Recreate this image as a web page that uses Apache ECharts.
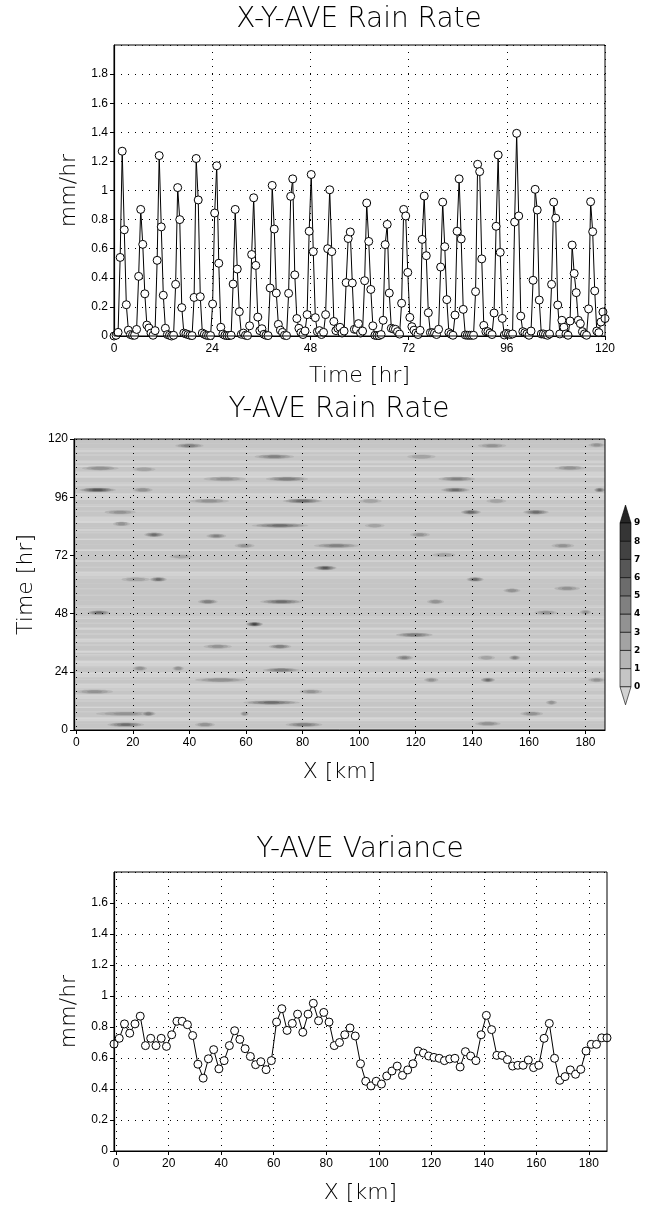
<!DOCTYPE html>
<html><head><meta charset="utf-8">
<script src="https://cdn.jsdelivr.net/npm/echarts@6/dist/echarts.min.js"></script>
<style>html,body{margin:0;padding:0;background:#fff}#c{width:649px;height:1205px}</style>
</head><body><div id="c"></div>
<script>
// ---------- DATA ----------
// X-Y-AVE rain rate (mm/hr), 240 samples spanning 0..120 hr
const rainRate = [
0,0.005,0.025,0.54,1.27,0.73,0.215,0.04,0.01,0.005,
0.005,0.045,0.41,0.87,0.63,0.29,0.075,0.055,0.02,0.005,
0.037,0.52,1.24,0.75,0.28,0.053,0.01,0.005,0,0.005,
0.355,1.02,0.80,0.195,0.02,0.015,0.01,0.005,0.003,0.265,
1.22,0.935,0.27,0.02,0.012,0.005,0.003,0.003,0.22,0.845,
1.17,0.50,0.06,0.013,0.005,0.003,0.003,0.005,0.357,0.87,
0.46,0.167,0.012,0.02,0.005,0.003,0.07,0.56,0.95,0.485,
0.13,0.037,0.05,0.012,0.005,0.003,0.33,1.035,0.735,0.295,
0.08,0.04,0.025,0.005,0.003,0.293,0.96,1.08,0.42,0.12,
0.053,0.023,0.01,0.035,0.147,0.72,1.11,0.58,0.126,0.03,
0.037,0.01,0.025,0.147,0.60,1.005,0.58,0.10,0.037,0.053,
0.06,0.02,0.034,0.367,0.67,0.715,0.364,0.046,0.046,0.085,
0.02,0.034,0.38,0.914,0.65,0.32,0.07,0.005,0.003,0.003,
0.01,0.108,0.628,0.767,0.295,0.053,0.048,0.046,0.03,0.013,
0.225,0.87,0.825,0.437,0.128,0.064,0.04,0.02,0.01,0.039,
0.664,0.962,0.552,0.16,0.023,0.023,0.02,0.01,0.046,0.474,
0.92,0.614,0.25,0.023,0.013,0.005,0.144,0.72,1.08,0.667,
0.183,0.007,0.005,0.005,0.005,0.005,0.305,1.18,1.13,0.53,
0.073,0.03,0.03,0.02,0.01,0.158,0.754,1.244,0.575,0.121,
0.007,0.018,0.015,0.01,0.014,0.783,1.393,0.825,0.137,0.03,
0.023,0.015,0.005,0.034,0.383,1.008,0.866,0.247,0.014,0.014,
0.01,0.005,0.014,0.355,0.92,0.81,0.213,0.014,0.108,0.06,
0.014,0.005,0.103,0.625,0.43,0.298,0.108,0.085,0.03,0.014,
0.005,0.186,0.923,0.717,0.31,0.034,0.023,0.096,0.165,0.12
];
// Y-AVE variance (mm/hr) along X
const variance = [
0.69,0.727,0.82,0.76,0.82,0.87,0.68,0.727,0.68,0.727,
0.675,0.75,0.837,0.837,0.815,0.745,0.56,0.47,0.595,0.654,
0.53,0.583,0.68,0.776,0.72,0.66,0.61,0.557,0.576,0.525,
0.583,0.832,0.918,0.778,0.823,0.883,0.766,0.883,0.953,0.84,
0.894,0.832,0.68,0.70,0.75,0.794,0.742,0.563,0.45,0.42,
0.45,0.432,0.484,0.516,0.548,0.488,0.523,0.563,0.645,0.632,
0.613,0.604,0.598,0.583,0.594,0.598,0.542,0.641,0.613,0.583,
0.75,0.875,0.783,0.617,0.617,0.59,0.548,0.553,0.553,0.587,
0.538,0.553,0.727,0.823,0.598,0.456,0.48,0.523,0.495,0.527,
0.645,0.688,0.688,0.73,0.73
];
// Y-AVE rain-rate streaks: [xStart km, xEnd km, time hr, peak value]
const streaks = [
[35,45,117.2,4.5],[142,152,117.2,3],[181,187,117.5,3],[63,77,112.7,4],[117,127,112.7,2.5],
[2,15,107.9,3.5],[20,28,107.5,2.5],[169,180,108,3],[45,60,103.5,3],[67,82,103.5,4.5],
[128,141,103.5,4],[1,14,99,6.5],[20,27,99,3.5],[129,139,99,5],[183,187,99,5],
[40,54,94.4,3],[73,87,94.4,5.5],[100,108,94.4,2.5],[145,152,94.4,2.5],[136,143,89.8,5.5],
[158,167,89.8,5],[10,21,89.8,3],[13,19,85,3],[62,82,84.3,5],[102,109,84.3,2.5],
[24,31,80.5,5],[46,53,80,4],[118,125,80.5,3],[56,63,76,3],[84,100,76,4],
[168,176,76,3],[33,41,71.5,2.5],[126,134,72.2,2.5],[84,92,66.8,6],[16,26,62.1,2.5],
[26,32,62.1,5],[138,144,62.1,5],[151,157,57.5,3.5],[169,178,58.4,3],[43,50,52.9,4.5],
[65,80,52.9,5],[124,130,52.9,3.5],[4,12,48.4,5],[162,170,48.4,3],[178,182,48.6,3],
[60,66,43.6,7],[113,126,39.2,4.5],[45,55,34.4,3],[68,76,34.4,4.5],[113,119,29.8,4],
[153,157,29.8,4],[142,148,29.8,2.5],[20,25,25.4,3.5],[34,38,25.4,3.5],[66,79,24.7,4.5],
[42,60,20.6,3.5],[123,128,20.6,3],[143,148,20.6,5],[181,187,20.6,3],[0,13,15.8,3],
[79,87,15.8,3],[59,79,11.3,5],[166,170,11.3,3],[7,28,6.7,3],[23,28,6.7,4.5],
[58,61,6.7,3.5],[157,165,6.7,3.5],[11,24,2.2,5],[42,49,2.2,3.5],[74,87,2.2,4.5],
[141,150,2.6,3.5]
];
const timeTicks = [0,24,48,72,96,120];
const kmTicks = [0,20,40,60,80,100,120,140,160,180];
const cbarLevels = [0,1,2,3,4,5,6,7,8,9];
// colours: below 0, [0,1), [1,2) ... [8,9), above 9
const levelColors = ['#d2d2d2','#c5c5c5','#b5b5b5','#a3a3a3','#929292','#808080','#6c6c6c','#575757','#424242','#353535','#262626'];

// ---------- STYLE CONSTANTS ----------
const KM_MIN = -0.8, KM_MAX = 186.9;
const DRY = 0.02;
const HALF_HR = 0.9;
const labelFont = "'Liberation Sans', Arial, sans-serif";
const hersheyFont = "'DejaVu Sans', sans-serif";
const dotted = {show:true, lineStyle:{color:'#000', width:1, type:[1,6]}};

function valueAxisCommon(extra){
  return Object.assign({
    type:'value',
    axisLine:{show:true, onZero:false, lineStyle:{color:'#000', width:1.2}},
    axisTick:{show:true, length:4, lineStyle:{color:'#000'}},
    axisLabel:{color:'#000', fontSize:12, fontFamily:labelFont, margin:7},
    splitLine:dotted,
    nameLocation:'middle',
    nameTextStyle:{color:'#000', fontSize:22, fontFamily:hersheyFont, fontWeight:200}
  }, extra);
}

const idxRain = rainRate.map((_, i) => i);
const idxVar = variance.map((_, i) => i);

function renderRow(params, api){
  const i = api.value(1), v = api.value(2);
  const a = api.coord([KM_MIN, i]);
  const b = api.coord([KM_MAX, i]);
  const h = api.size([0, 1])[1];
  return {type:'rect', shape:{x:a[0], y:a[1]-h/2, width:b[0]-a[0], height:h+0.4},
          style:{fill: v < DRY ? levelColors[0] : levelColors[1]}};
}
function renderStreak(params, api){
  const x0 = api.value(0), x1 = api.value(1), t = api.value(2), peak = api.value(3);
  const c = api.coord([(x0+x1)/2, t]);
  const sz = api.size([(x1-x0)/2, HALF_HR]);
  const children = [];
  for (let j = 1; j <= Math.floor(peak); j++){
    const f = 1 - (j-1)/peak;
    children.push({type:'ellipse',
      shape:{cx:c[0], cy:c[1], rx:sz[0]*Math.pow(f,0.8), ry:Math.max(0.7, sz[1]*Math.pow(f,0.5))},
      style:{fill:levelColors[j+1]}});
  }
  return {type:'group', children};
}

// colourbar graphics
const CB = {x:620, w:11, top:523, box:18.2, tri:18};
const cbar = [];
cbar.push({type:'polygon', shape:{points:[[CB.x,CB.top],[CB.x+CB.w,CB.top],[CB.x+CB.w/2,CB.top-CB.tri]]},
  style:{fill:levelColors[10], stroke:'#000', lineWidth:0.6}});
for (let k = 0; k < cbarLevels.length-1; k++){
  cbar.push({type:'rect', shape:{x:CB.x, y:CB.top+(cbarLevels.length-2-k)*CB.box, width:CB.w, height:CB.box},
    style:{fill:levelColors[k+1], stroke:'#000', lineWidth:0.6}});
}
const cbBottom = CB.top + (cbarLevels.length-1)*CB.box;
cbar.push({type:'polygon', shape:{points:[[CB.x,cbBottom],[CB.x+CB.w,cbBottom],[CB.x+CB.w/2,cbBottom+CB.tri]]},
  style:{fill:levelColors[0], stroke:'#000', lineWidth:0.6}});
cbarLevels.forEach((L, k) => {
  cbar.push({type:'text', x:CB.x+CB.w+3, y:CB.top+(cbarLevels.length-1-k)*CB.box,
    style:{text:String(L), fill:'#000', fontSize:9, fontWeight:'bold', fontFamily:"'DejaVu Sans', sans-serif", align:'left', verticalAlign:'middle'}});
});
function title(text, x, y){
  return {type:'text', x, y, style:{text, fill:'#000', fontSize:28, fontFamily:hersheyFont, fontWeight:200, align:'center', verticalAlign:'middle'}};
}

const option = {
  animation:false,
  backgroundColor:'#fff',
  grid:[
    {left:114, top:45, width:491, height:291, show:true, borderColor:'#000', borderWidth:1, z:10},
    {left:74, top:439, width:531, height:291, show:true, borderColor:'#000', borderWidth:1, z:10},
    {left:114, top:872, width:493, height:280, show:true, borderColor:'#000', borderWidth:1, z:10}
  ],
  xAxis:[
    {gridIndex:0, type:'category', data:idxRain, boundaryGap:false, show:false, position:'top'},
    valueAxisCommon({gridIndex:0, min:0, max:120, interval:24, position:'bottom', name:'Time [hr]', nameGap:29}),
    valueAxisCommon({gridIndex:1, min:KM_MIN, max:KM_MAX, position:'bottom', z:5,
      axisTick:{show:true, length:4, lineStyle:{color:'#000'}, customValues:kmTicks},
      axisLabel:{color:'#000', fontSize:12, fontFamily:labelFont, margin:7, customValues:kmTicks},
      name:'X [km]', nameGap:31}),
    {gridIndex:2, type:'category', data:idxVar, boundaryGap:false, show:false, position:'top'},
    valueAxisCommon({gridIndex:2, min:KM_MIN, max:KM_MAX, position:'bottom',
      axisTick:{show:true, length:4, lineStyle:{color:'#000'}, customValues:kmTicks},
      axisLabel:{color:'#000', fontSize:12, fontFamily:labelFont, margin:7, customValues:kmTicks},
      name:'X [km]', nameGap:31})
  ],
  yAxis:[
    valueAxisCommon({gridIndex:0, min:0, max:2, interval:0.2, name:'mm/hr', nameGap:29,
      axisLabel:{color:'#000', fontSize:12, fontFamily:labelFont, margin:6, showMaxLabel:false}}),
    valueAxisCommon({gridIndex:1, min:0, max:120, interval:24, z:5, name:'Time [hr]', nameGap:28,
      axisTick:{show:true, length:4, lineStyle:{color:'#000'}, customValues:timeTicks},
      axisLabel:{color:'#000', fontSize:12, fontFamily:labelFont, margin:6, customValues:timeTicks}}),
    {gridIndex:1, type:'category', data:idxRain, boundaryGap:false, show:false, position:'right'},
    valueAxisCommon({gridIndex:2, min:0, max:1.8, interval:0.2, name:'mm/hr', nameGap:29,
      axisLabel:{color:'#000', fontSize:12, fontFamily:labelFont, margin:6, showMaxLabel:false}})
  ],
  series:[
    {type:'line', xAxisIndex:0, yAxisIndex:0, data:rainRate, symbol:'circle', symbolSize:8, showAllSymbol:true,
     lineStyle:{color:'#000', width:1}, itemStyle:{color:'#fff', borderColor:'#000', borderWidth:1}, z:3},
    {type:'custom', xAxisIndex:2, yAxisIndex:2, clip:true, z:1,
     data:rainRate.map((v, i) => [KM_MIN, i, v]), encode:{x:0, y:1}, renderItem:renderRow},
    {type:'custom', xAxisIndex:2, yAxisIndex:1, clip:true, z:2,
     data:streaks, encode:{x:[0,1], y:2}, renderItem:renderStreak},
    {type:'line', xAxisIndex:3, yAxisIndex:3, data:variance, symbol:'circle', symbolSize:8, showAllSymbol:true,
     lineStyle:{color:'#000', width:1}, itemStyle:{color:'#fff', borderColor:'#000', borderWidth:1}, z:3}
  ],
  graphic:[
    title('X-Y-AVE Rain Rate', 359, 20),
    title('Y-AVE Rain Rate', 339, 410),
    title('Y-AVE Variance', 360, 850)
  ].concat(cbar)
};
const chart = echarts.init(document.getElementById('c'), null, {renderer:'canvas', width:649, height:1205});
chart.setOption(option);
</script></body></html>
